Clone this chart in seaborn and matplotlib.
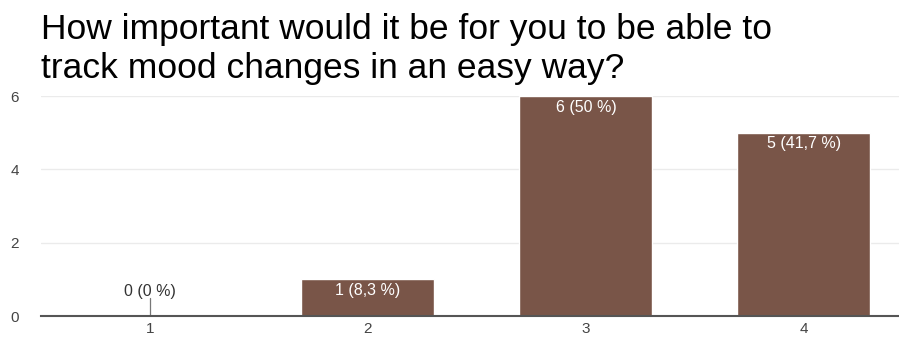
import numpy as np
import pandas as pd
import matplotlib
matplotlib.use("Agg")
import matplotlib.pyplot as plt
import seaborn as sns

# survey answers
answers = ["1", "2", "3", "4"]
counts = [0, 1, 6, 5]
labels = ["0 (0 %)", "1 (8,3 %)", "6 (50 %)", "5 (41,7 %)"]
title = "How important would it be for you to be able to\ntrack mood changes in an easy way?"

df = pd.DataFrame({"answer": answers, "count": counts})

sns.set_style("white")
plt.rcParams['font.family'] = ['Liberation Sans', 'DejaVu Sans']

fig = plt.figure(figsize=(8.99, 3.41), dpi=100)
ax = fig.add_axes([41 / 899, 25 / 341, 858 / 899, 220 / 341])

sns.barplot(data=df, x="answer", y="count", color="#795548", saturation=1,
            width=0.61, ax=ax)

ax.set_xlim(-0.5, 3.436)
ax.set_ylim(0, 6)
ax.set_yticks([0, 2, 4, 6])
ax.yaxis.grid(True, color="#ebebeb", linewidth=1)
ax.set_axisbelow(True)
for s in ["top", "right", "left"]:
    ax.spines[s].set_visible(False)
ax.spines["bottom"].set_color("#555555")
ax.spines["bottom"].set_linewidth(1.5)
ax.spines["bottom"].set_zorder(5)
ax.tick_params(axis="both", length=0, labelsize=11, colors="#444444")
ax.tick_params(axis="y", pad=22)
ax.tick_params(axis="x", pad=4)
for t in ax.get_yticklabels():
    t.set_horizontalalignment("left")
ax.set_xlabel("")
ax.set_ylabel("")

for i, (c, lab) in enumerate(zip(counts, labels)):
    if c == 0:
        ax.plot([i, i], [0, 0.48], color="#777777", linewidth=0.9)
        ax.text(i, 0.68, lab, ha="center", va="center", fontsize=11.5, color="#333333")
    else:
        ax.annotate(lab, (i, c), xytext=(0, -8), textcoords="offset points",
                    ha="center", va="center", fontsize=11.5, color="white")

fig.text(41 / 899, 1 - 13 / 341, title, ha="left", va="top", fontsize=25.5,
         color="black", linespacing=1.22)

fig.savefig("out.png", dpi=100)
